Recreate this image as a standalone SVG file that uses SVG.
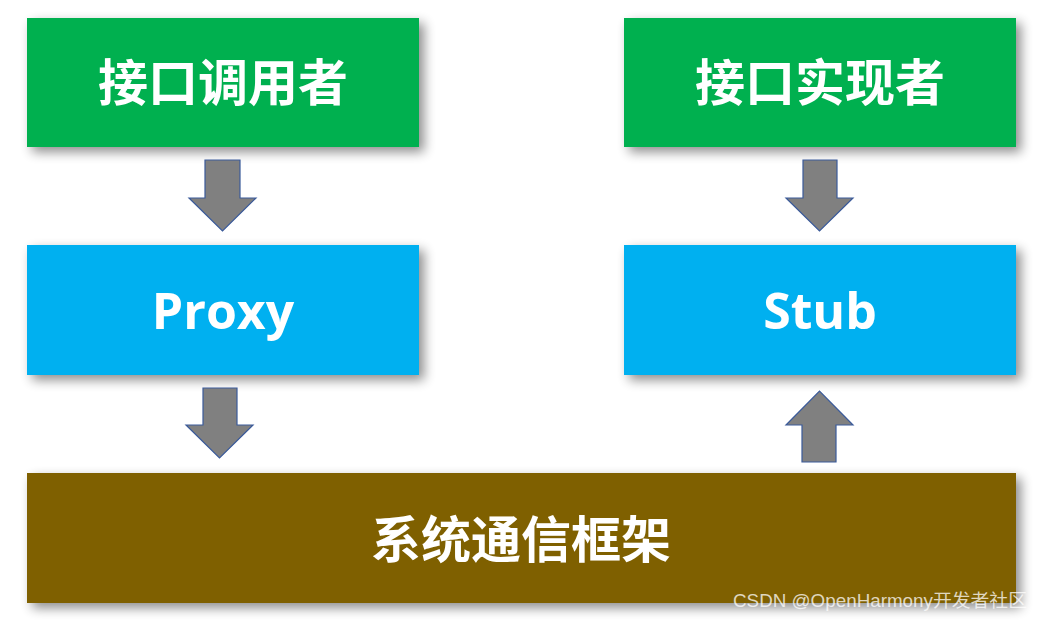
<svg xmlns="http://www.w3.org/2000/svg" width="1043" height="621" viewBox="0 0 1043 621">
<defs>
<filter id="sh" x="-10%" y="-20%" width="120%" height="150%">
<feGaussianBlur in="SourceAlpha" stdDeviation="6"/>
<feOffset dx="5" dy="5" result="b"/>
<feComponentTransfer><feFuncA type="linear" slope="0.45"/></feComponentTransfer>
<feMerge><feMergeNode/><feMergeNode in="SourceGraphic"/></feMerge>
</filter>
<style>
.t{fill:#fff;font-family:"Open Sans","Noto Sans","Noto Sans CJK SC",sans-serif;font-weight:bold;font-size:50px;text-anchor:middle}
.a{fill:#808080;stroke:#3A5A9A;stroke-width:1.2}
</style>
</defs>
<rect width="1043" height="621" fill="#fff"/>
<g id="caller" filter="url(#sh)"><rect x="27" y="18" width="392" height="129" fill="#00B050"/><text class="t" x="223" y="101">接口调用者</text></g>
<g id="impl" filter="url(#sh)"><rect x="624" y="18" width="392" height="129" fill="#00B050"/><text class="t" x="820" y="101">接口实现者</text></g>
<g id="proxy" filter="url(#sh)"><rect x="27" y="245" width="392" height="130" fill="#00B0F0"/><text class="t" x="223" y="329">Proxy</text></g>
<g id="stub" filter="url(#sh)"><rect x="624" y="245" width="392" height="130" fill="#00B0F0"/><text class="t" x="820" y="329">Stub</text></g>
<g id="framework" filter="url(#sh)"><rect x="27" y="473" width="989" height="130" fill="#7F6000"/><text class="t" x="521" y="558">系统通信框架</text></g>
<g id="connectors">
<path class="a" d="M205,160H240V198H256L222.5,231L189,198H205Z"/>
<path class="a" d="M203,388H237V425H253L219.5,458L186,425H203Z"/>
<path class="a" d="M803,160H837V198H853L819.5,231L786,198H803Z"/>
<path class="a" d="M802,462H836V425H853L819.5,391L786,425H802Z"/>
</g>
<text x="733" y="607" textLength="294" lengthAdjust="spacingAndGlyphs" style="font-family:'Liberation Sans','Noto Sans CJK SC',sans-serif;font-size:18.5px;fill:#fff;fill-opacity:0.75">CSDN @OpenHarmony开发者社区</text>
</svg>
